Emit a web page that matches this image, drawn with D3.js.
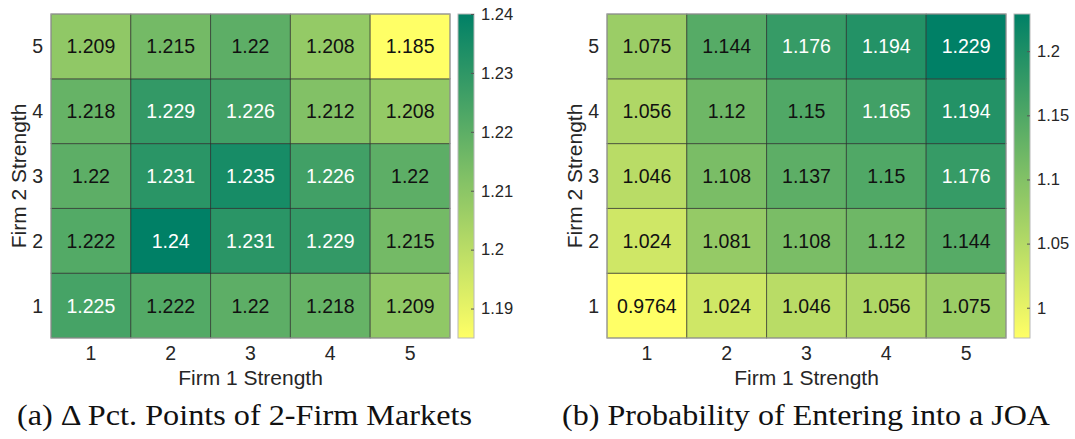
<!DOCTYPE html>
<html>
<head>
<meta charset="utf-8">
<script src="https://cdn.jsdelivr.net/npm/d3@7"></script>
<style>
  html, body { margin: 0; padding: 0; background: #fff; }
  svg { display: block; }
</style>
</head>
<body>
<svg id="fig" width="1075" height="439"></svg>
<script>
// Strength levels for each firm (columns = Firm 1, rows = Firm 2)
const firm1Levels = [1, 2, 3, 4, 5];
const firm2Levels = [1, 2, 3, 4, 5];

// (a) change in percentage points of 2-firm markets; one row per Firm 2 level (1..5)
const deltaPctRows = [
  [1.225, 1.222, 1.22, 1.218, 1.209],
  [1.222, 1.24, 1.231, 1.229, 1.215],
  [1.22, 1.231, 1.235, 1.226, 1.22],
  [1.218, 1.229, 1.226, 1.212, 1.208],
  [1.209, 1.215, 1.22, 1.208, 1.185]
];

// (b) probability of entering into a JOA; one row per Firm 2 level (1..5)
const joaProbRows = [
  [0.9764, 1.024, 1.046, 1.056, 1.075],
  [1.024, 1.081, 1.108, 1.12, 1.144],
  [1.046, 1.108, 1.137, 1.15, 1.176],
  [1.056, 1.12, 1.15, 1.165, 1.194],
  [1.075, 1.144, 1.176, 1.194, 1.229]
];

// Colour bar tick labels
const deltaPctTicks = [1.19, 1.2, 1.21, 1.22, 1.23, 1.24];
const joaProbTicks = [1, 1.05, 1.1, 1.15, 1.2];

const captions = [
  "(a) \u0394 Pct. Points of 2-Firm Markets",
  "(b) Probability of Entering into a JOA"
];

const svg = d3.select("#fig");
const sans = "'Liberation Sans', Arial, Helvetica, sans-serif";
const serif = "'Liberation Serif', 'Times New Roman', serif";
const axisGray = "#262626";
const lowColor = "#ffff66";
const highColor = "#008066";
const fmt = d3.format(".4~g");

function drawHeatmap(opts) {
  const { left, top, width, height, rows, ticks, id } = opts;
  const g = svg.append("g");

  const x = d3.scaleBand().domain(firm1Levels).range([left, left + width]);
  const y = d3.scaleBand().domain(firm2Levels).range([top + height, top]);

  const values = rows.flat();
  const vmin = d3.min(values), vmax = d3.max(values);
  const color = d3.scaleSequential(d3.interpolateRgb(lowColor, highColor)).domain([vmin, vmax]);
  const tNorm = d3.scaleLinear().domain([vmin, vmax]).range([0, 1]);

  const cells = [];
  rows.forEach((row, ri) => row.forEach((v, ci) => {
    cells.push({ fx: firm1Levels[ci], fy: firm2Levels[ri], v });
  }));

  // cells
  g.selectAll("rect.cell").data(cells).join("rect")
    .attr("class", "cell")
    .attr("x", d => x(d.fx))
    .attr("y", d => y(d.fy))
    .attr("width", x.bandwidth())
    .attr("height", y.bandwidth())
    .attr("fill", d => color(d.v))
    .attr("stroke", "rgba(38,38,38,0.6)")
    .attr("stroke-width", 1);

  // outer box
  g.append("rect")
    .attr("x", left).attr("y", top)
    .attr("width", width).attr("height", height)
    .attr("fill", "none")
    .attr("stroke", "#a8a8a8")
    .attr("stroke-width", 1);

  // cell value labels
  g.selectAll("text.val").data(cells).join("text")
    .attr("class", "val")
    .attr("x", d => x(d.fx) + x.bandwidth() / 2)
    .attr("y", d => y(d.fy) + y.bandwidth() / 2)
    .attr("dy", "0.36em")
    .attr("text-anchor", "middle")
    .attr("font-family", sans)
    .attr("font-size", 19.5)
    .attr("fill", d => tNorm(d.v) > 0.7 ? "#ffffff" : "#111111")
    .text(d => fmt(d.v));

  // x axis tick labels
  g.selectAll("text.xt").data(firm1Levels).join("text")
    .attr("class", "xt")
    .attr("x", d => x(d) + x.bandwidth() / 2)
    .attr("y", top + height + 22)
    .attr("text-anchor", "middle")
    .attr("font-family", sans).attr("font-size", 19.5)
    .attr("fill", axisGray)
    .text(d => d);

  // y axis tick labels
  g.selectAll("text.yt").data(firm2Levels).join("text")
    .attr("class", "yt")
    .attr("x", left - 8)
    .attr("y", d => y(d) + y.bandwidth() / 2)
    .attr("dy", "0.36em")
    .attr("text-anchor", "end")
    .attr("font-family", sans).attr("font-size", 19.5)
    .attr("fill", axisGray)
    .text(d => d);

  // axis titles
  g.append("text")
    .attr("x", left + width / 2)
    .attr("y", top + height + 47)
    .attr("text-anchor", "middle")
    .attr("font-family", sans).attr("font-size", 21)
    .attr("fill", axisGray)
    .text("Firm 1 Strength");

  g.append("text")
    .attr("transform", `translate(${left - 25},${top + height / 2}) rotate(-90)`)
    .attr("text-anchor", "middle")
    .attr("font-family", sans).attr("font-size", 21)
    .attr("fill", axisGray)
    .text("Firm 2 Strength");

  // colour bar
  const cbLeft = left + width + 8, cbWidth = 16;
  const cbY = d3.scaleLinear().domain([vmin, vmax]).range([top + height, top]);
  const grad = svg.append("defs").append("linearGradient")
    .attr("id", id).attr("x1", 0).attr("y1", 1).attr("x2", 0).attr("y2", 0);
  d3.range(0, 1.0001, 0.1).forEach(t => {
    grad.append("stop").attr("offset", t).attr("stop-color", color(vmin + t * (vmax - vmin)));
  });
  g.append("rect")
    .attr("x", cbLeft).attr("y", top)
    .attr("width", cbWidth).attr("height", height)
    .attr("fill", `url(#${id})`)
    .attr("stroke", "#b8b8b8").attr("stroke-width", 1);

  const cbAxis = d3.axisRight(cbY).tickValues(ticks).tickSize(3).tickPadding(5)
    .tickFormat(d3.format("~g"));
  const ag = g.append("g").attr("transform", `translate(${cbLeft + cbWidth},0)`).call(cbAxis);
  ag.select(".domain").remove();
  ag.selectAll(".tick line").attr("stroke", "#555").attr("transform", "translate(-3,0)");
  ag.selectAll(".tick text")
    .attr("font-family", sans).attr("font-size", 16.5)
    .attr("fill", axisGray).attr("x", 7);
}

drawHeatmap({ left: 51, top: 14, width: 399, height: 324, rows: deltaPctRows, ticks: deltaPctTicks, id: "cbA" });
drawHeatmap({ left: 607, top: 14, width: 399, height: 324, rows: joaProbRows, ticks: joaProbTicks, id: "cbB" });

// sub-figure captions
const capPos = [{ x: 17, w: 455 }, { x: 562, w: 488 }];
svg.selectAll("text.cap").data(captions).join("text")
  .attr("class", "cap")
  .attr("x", (d, i) => capPos[i].x)
  .attr("y", 425)
  .attr("font-family", serif)
  .attr("font-size", 29)
  .attr("fill", "#111")
  .attr("textLength", (d, i) => capPos[i].w)
  .attr("lengthAdjust", "spacingAndGlyphs")
  .text(d => d);
</script>
</body>
</html>
